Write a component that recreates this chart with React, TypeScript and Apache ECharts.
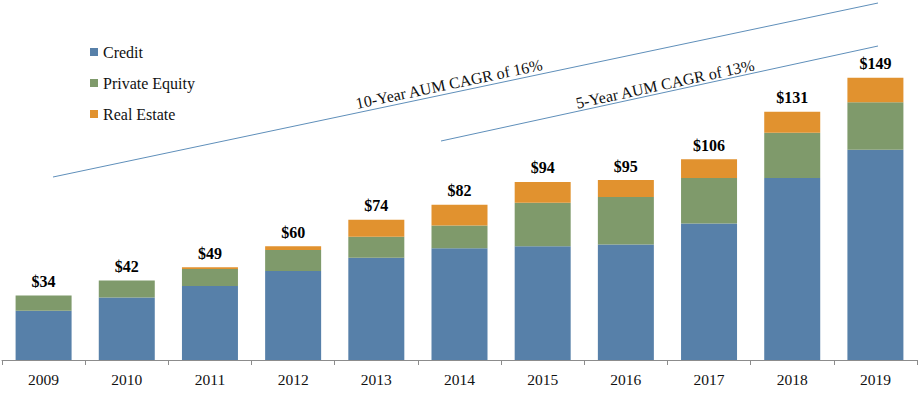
import React, { useEffect, useRef } from "react";
import * as echarts from "echarts";

const years = ["2009", "2010", "2011", "2012", "2013", "2014", "2015", "2016", "2017", "2018", "2019"];
const credit = [26, 33, 39, 47, 54, 59, 60, 61, 72, 96, 111];
const privateEquity = [8, 9, 9, 11, 11, 12, 23, 25, 24, 24, 25];
const realEstate = [0, 0, 1, 2, 9, 11, 11, 9, 10, 11, 13];
const totals = [34, 42, 49, 60, 74, 82, 94, 95, 106, 131, 149];
const cagrLabels = ["10-Year AUM CAGR of 16%", "5-Year AUM CAGR of 13%"];

const FONT = "'Liberation Serif', 'Times New Roman', serif";
const LINE_COLOR = "#5f8fba";

export default function App() {
  const ref = useRef<HTMLDivElement>(null);
  useEffect(() => {
    document.body.style.margin = "0";
    const chart = echarts.init(ref.current!, undefined, { renderer: "svg" });
    const slope10 = Math.atan2(177 - 3, 878 - 53);
    const slope5 = Math.atan2(141 - 46, 878 - 441);
    chart.setOption({
      animation: false,
      textStyle: { fontFamily: FONT },
      grid: { left: 2, right: 5, top: 0, bottom: 38, containLabel: false },
      legend: {
        orient: "vertical",
        left: 90,
        top: 44,
        padding: 0,
        itemWidth: 8,
        itemHeight: 8,
        itemGap: 15,
        icon: "rect",
        textStyle: { fontFamily: FONT, fontSize: 16, color: "#111" },
        data: ["Credit", "Private Equity", "Real Estate"],
      },
      xAxis: {
        type: "category",
        data: years,
        axisLine: { lineStyle: { color: "#8c8c8c", width: 1 } },
        axisTick: { show: true, length: 5, lineStyle: { color: "#8c8c8c" } },
        axisLabel: { fontFamily: FONT, fontSize: 15.5, color: "#111", margin: 11 },
      },
      yAxis: { type: "value", min: 0, max: 190, show: false, splitLine: { show: false } },
      series: [
        {
          name: "Credit",
          type: "bar",
          stack: "aum",
          barWidth: 56,
          data: credit,
          itemStyle: { color: "#5780a9" },
        },
        {
          name: "Private Equity",
          type: "bar",
          stack: "aum",
          barWidth: 56,
          data: privateEquity,
          itemStyle: { color: "#7f9a6b" },
        },
        {
          name: "Real Estate",
          type: "bar",
          stack: "aum",
          barWidth: 56,
          data: realEstate,
          itemStyle: { color: "#e1922f" },
          label: {
            show: true,
            position: "top",
            distance: 6,
            fontFamily: FONT,
            fontSize: 16,
            fontWeight: "bold",
            color: "#000",
            formatter: (p: any) => "$" + totals[p.dataIndex],
          },
        },
      ],
      graphic: [
        {
          type: "line",
          shape: { x1: 53, y1: 177, x2: 878, y2: 3 },
          style: { stroke: LINE_COLOR, lineWidth: 1 },
        },
        {
          type: "line",
          shape: { x1: 441, y1: 141, x2: 878, y2: 46 },
          style: { stroke: LINE_COLOR, lineWidth: 1 },
        },
        {
          type: "text",
          x: 449,
          y: 84,
          rotation: slope10,
          style: {
            text: cagrLabels[0],
            fontFamily: FONT,
            fontSize: 16,
            fill: "#111",
            align: "center",
            verticalAlign: "middle",
          },
        },
        {
          type: "text",
          x: 665,
          y: 84,
          rotation: slope5,
          style: {
            text: cagrLabels[1],
            fontFamily: FONT,
            fontSize: 16,
            fill: "#111",
            align: "center",
            verticalAlign: "middle",
          },
        },
      ],
    });
    return () => chart.dispose();
  }, []);
  return <div ref={ref} style={{ width: 922, height: 398 }} />;
}
